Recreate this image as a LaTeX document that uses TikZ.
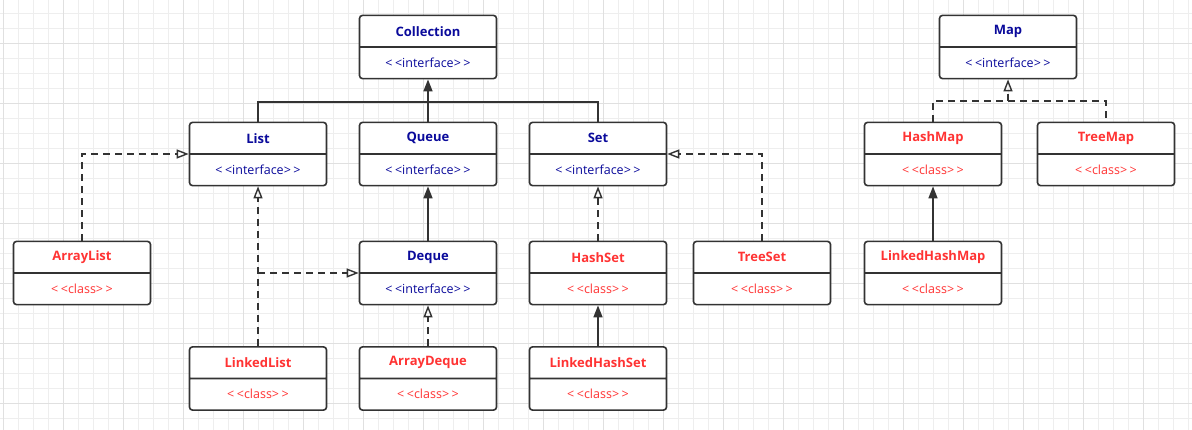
\documentclass[tikz,border=0pt]{standalone}
\usepackage{fontspec}
\setmainfont{Open Sans}
\usetikzlibrary{arrows.meta,shapes.multipart}

\definecolor{ifblue}{RGB}{10,10,155}
\definecolor{clsred}{RGB}{255,51,51}
\definecolor{edge}{RGB}{51,51,51}
\newcommand{\umlpart}[1]{\parbox[c][30pt][c]{137pt}{\centering #1}}
\newcommand{\stereo}[1]{\fontsize{12.5}{14}\selectfont <\hspace{2.5pt}<#1>\hspace{2.5pt}>}
\newcommand{\iface}[1]{\umlpart{\color{ifblue}\bfseries #1}\nodepart{two}\umlpart{\color{ifblue}\stereo{interface}}}
\newcommand{\klass}[1]{\umlpart{\color{clsred}\bfseries #1}\nodepart{two}\umlpart{\color{clsred}\stereo{class}}}

\begin{document}
\begin{tikzpicture}[x=1pt, y=-1pt, font=\fontsize{13}{15}\selectfont,
  umlbox/.style={rectangle split, rectangle split parts=2, draw=edge, line width=1.6pt,
    rounded corners=3pt, inner sep=0pt, fill=white},
  impl/.style={draw=edge, line width=1.6pt, dash pattern=on 7pt off 5pt,
    -{Triangle[open, length=12pt, width=9pt, line width=1.4pt]}},
  ext/.style={draw=edge, line width=1.6pt, -{Triangle[length=12pt, width=9pt]}},
  gridminor/.style={draw={rgb,255:red,238;green,238;blue,238}, line width=0.8pt},
  gridmajor/.style={draw={rgb,255:red,224;green,224;blue,224}, line width=0.8pt}]
\useasboundingbox (0,0) rectangle (1192,430);
\fill[white] (0,0) rectangle (1192,430);
\foreach \gx in {3,18,...,1188} \draw[gridminor] (\gx,0) -- (\gx,430);
\foreach \gy in {13,28,...,428} \draw[gridminor] (0,\gy) -- (1192,\gy);
\foreach \gx in {3,63,...,1143} \draw[gridmajor] (\gx,0) -- (\gx,430);
\foreach \gy in {43,103,...,403} \draw[gridmajor] (0,\gy) -- (1192,\gy);

\node[umlbox] (Collection) at (428,47) {\iface{Collection}};
\node[umlbox] (Map) at (1008,47) {\iface{Map}};
\node[umlbox] (List) at (258,154) {\iface{List}};
\node[umlbox] (Queue) at (428,154) {\iface{Queue}};
\node[umlbox] (Set) at (598,154) {\iface{Set}};
\node[umlbox] (HashMap) at (933,154) {\klass{HashMap}};
\node[umlbox] (TreeMap) at (1106,154) {\klass{TreeMap}};
\node[umlbox] (ArrayList) at (82,273) {\klass{ArrayList}};
\node[umlbox] (Deque) at (428,273) {\iface{Deque}};
\node[umlbox] (HashSet) at (598,273) {\klass{HashSet}};
\node[umlbox] (TreeSet) at (762,273) {\klass{TreeSet}};
\node[umlbox] (LinkedHashMap) at (933,273) {\klass{LinkedHashMap}};
\node[umlbox] (LinkedList) at (258,378.5) {\klass{LinkedList}};
\node[umlbox] (ArrayDeque) at (428,378.5) {\klass{ArrayDeque}};
\node[umlbox] (LinkedHashSet) at (598,378.5) {\klass{LinkedHashSet}};

\coordinate (cbus) at (Queue.north |- 0,102);
\coordinate (mbus) at (Map.south |- 0,101);
\coordinate (llbranch) at (LinkedList.north |- Deque.west);

\draw[draw=edge, line width=1.6pt] (List.north) |- (cbus) -| (Set.north);
\draw[ext] (Queue.north) -- (Collection.south);
\draw[draw=edge, line width=1.6pt, dash pattern=on 7pt off 5pt] (HashMap.north) |- (mbus) -| (TreeMap.north);
\draw[impl] (mbus) -- (Map.south);
\draw[impl] (ArrayList.north) |- (List.west);
\draw[impl] (LinkedList.north) -- (List.south);
\draw[impl] (llbranch) -- (Deque.west);
\draw[ext] (Deque.north) -- (Queue.south);
\draw[impl] (ArrayDeque.north) -- (Deque.south);
\draw[impl] (HashSet.north) -- (Set.south);
\draw[impl] (TreeSet.north) |- (Set.east);
\draw[ext] (LinkedHashSet.north) -- (HashSet.south);
\draw[ext] (LinkedHashMap.north) -- (HashMap.south);
\end{tikzpicture}
\end{document}
